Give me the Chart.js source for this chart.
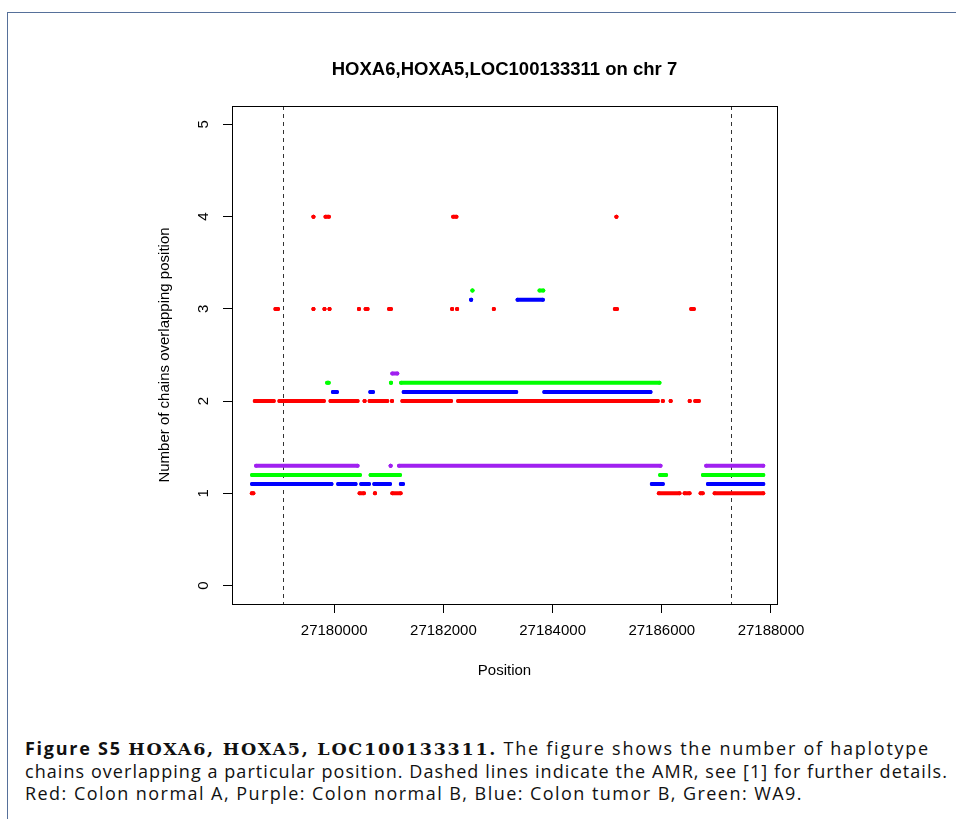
<!DOCTYPE html>
<html>
<head>
<meta charset="utf-8">
<script src="https://cdn.jsdelivr.net/npm/chart.js@4.4.1/dist/chart.umd.min.js"></script>
<style>
  html, body { margin: 0; padding: 0; background: #fff; }
  body { width: 956px; height: 819px; position: relative; overflow: hidden; }
  #frame {
    position: absolute; left: 7px; top: 12px; right: 0; bottom: 0;
    border-top: 1.5px solid #56709a; border-left: 1.5px solid #56709a;
  }
  #plot { position: absolute; left: 0; top: 0; }
  #caption {
    position: absolute; left: 25px; top: 737px;
    font-family: "Open Sans", "Liberation Sans", sans-serif;
    font-size: 18px; line-height: 22px; color: #111; white-space: nowrap;
  }
  #caption div { display: block; width: max-content; }
  #caption .lead { font-weight: bold; }
  #caption .genes { font-family: "DejaVu Serif", "Liberation Serif", serif; font-weight: bold; font-size: 17.5px; }
</style>
</head>
<body>
<div id="frame"></div>
<canvas id="plot" width="956" height="700"></canvas>
<div id="caption">
  <div data-w="905"><span class="lead">Figure S5</span> <span class="genes">HOXA6, HOXA5, LOC100133311.</span> The figure shows the number of haplotype</div>
  <div data-w="923">chains overlapping a particular position. Dashed lines indicate the AMR, see [1] for further details.</div>
  <div data-w="778">Red: Colon normal A, Purple: Colon normal B, Blue: Colon tumor B, Green: WA9.</div>
</div>
<script>
// Title and AMR boundaries
const plotTitle = "HOXA6,HOXA5,LOC100133311 on chr 7";
const amrBounds = [27179060, 27187260];
const xTicks = [27180000, 27182000, 27184000, 27186000, 27188000];

// Runs of chain counts: [start, end, count]
const redRuns = [
  [27178490, 27178520, 1], [27180464, 27180545, 1], [27180747, 27180747, 1],
  [27181064, 27181217, 1], [27185945, 27186325, 1], [27186417, 27186509, 1],
  [27186710, 27186750, 1], [27186967, 27187859, 1],
  [27178545, 27178893, 2], [27178996, 27179811, 2], [27179932, 27180428, 2],
  [27180556, 27180556, 2], [27180648, 27180973, 2], [27181059, 27181059, 2],
  [27181248, 27182141, 2], [27182270, 27185927, 2], [27186019, 27186019, 2],
  [27186162, 27186162, 2], [27186511, 27186511, 2], [27186612, 27186679, 2],
  [27178923, 27178972, 3], [27179620, 27179620, 3], [27179822, 27179822, 3],
  [27179914, 27179914, 3], [27180453, 27180453, 3], [27180574, 27180611, 3],
  [27181004, 27181040, 3], [27182160, 27182160, 3], [27182251, 27182251, 3],
  [27182923, 27182923, 3], [27185140, 27185180, 3], [27186538, 27186588, 3],
  [27179620, 27179620, 4], [27179840, 27179903, 4], [27182178, 27182239, 4],
  [27185169, 27185169, 4]
];
const purpleRuns = [
  [27178569, 27180428, 1], [27181033, 27181033, 1], [27181187, 27185977, 1],
  [27186813, 27187859, 1],
  [27181064, 27181156, 2]
];
const blueRuns = [
  [27178495, 27179950, 1], [27180073, 27180391, 1], [27180495, 27180637, 1],
  [27180734, 27181022, 1], [27181220, 27181260, 1], [27185817, 27186019, 1],
  [27186845, 27187859, 1],
  [27179976, 27180050, 2], [27180661, 27180710, 2], [27181272, 27183334, 2],
  [27183848, 27185793, 2],
  [27182508, 27182508, 3], [27183358, 27183822, 3]
];
const greenRuns = [
  [27178495, 27180472, 1], [27180666, 27181206, 1], [27185969, 27186079, 1],
  [27186753, 27187859, 1],
  [27179870, 27179900, 2], [27181040, 27181040, 2], [27181224, 27185958, 2],
  [27182532, 27182532, 3], [27183760, 27183830, 3]
];

// Each sample is nudged up a little so the runs don't sit on top of each other
const samples = [
  { label: "Colon normal A", runs: redRuns, offset: 0, color: "#ff0000" },
  { label: "Colon normal B", runs: purpleRuns, offset: 0.3, color: "#a020f0" },
  { label: "Colon tumor B", runs: blueRuns, offset: 0.1, color: "#0000ff" },
  { label: "WA9", runs: greenRuns, offset: 0.2, color: "#00ff00" }
];

function runsToPoints(runs, offset) {
  const pts = [];
  runs.forEach(([start, end, count]) => {
    pts.push({ x: start, y: count + offset });
    pts.push({ x: end, y: count + offset });
    pts.push({ x: end, y: null });
  });
  return pts;
}

const AREA = { left: 232, right: 777, top: 106, bottom: 604 };
const FONT = "'Liberation Sans', Arial, Helvetica, sans-serif";

// Box, dashed AMR lines and the main title
const rFrame = {
  id: "rFrame",
  beforeDatasetsDraw(chart) {
    const { ctx, chartArea: a, scales: { x } } = chart;
    ctx.save();
    ctx.strokeStyle = "#333";
    ctx.lineWidth = 1;
    ctx.setLineDash([4, 4]);
    amrBounds.forEach(v => {
      const px = Math.round(x.getPixelForValue(v)) + 0.5;
      ctx.beginPath();
      ctx.moveTo(px, a.top);
      ctx.lineTo(px, a.bottom);
      ctx.stroke();
    });
    ctx.restore();
  },
  afterDraw(chart) {
    const { ctx, chartArea: a } = chart;
    ctx.save();
    ctx.strokeStyle = "#000";
    ctx.lineWidth = 1;
    ctx.strokeRect(Math.round(a.left) + 0.5, Math.round(a.top) + 0.5,
      Math.round(a.right - a.left), Math.round(a.bottom - a.top));
    ctx.fillStyle = "#000";
    ctx.font = "bold 18.5px " + FONT;
    ctx.textAlign = "center";
    ctx.textBaseline = "middle";
    ctx.fillText(plotTitle, (a.left + a.right) / 2, 70);
    ctx.restore();
  }
};

const yAxisWidth = 76;
const xAxisHeight = 78;

new Chart(document.getElementById("plot"), {
  type: "line",
  data: {
    datasets: samples.map(s => ({
      label: s.label,
      data: runsToPoints(s.runs, s.offset),
      borderColor: s.color,
      backgroundColor: s.color,
      borderWidth: 4,
      borderCapStyle: "round",
      pointRadius: 2,
      pointBorderWidth: 0,
      pointHoverRadius: 2,
      spanGaps: false,
      tension: 0
    }))
  },
  options: {
    responsive: false,
    animation: false,
    events: [],
    layout: {
      padding: {
        left: AREA.left - yAxisWidth,
        right: 956 - AREA.right,
        top: AREA.top,
        bottom: 700 - AREA.bottom - xAxisHeight
      }
    },
    plugins: { legend: { display: false }, tooltip: { enabled: false } },
    scales: {
      x: {
        type: "linear",
        min: 27178128,
        max: 27188110,
        afterFit: s => { s.height = xAxisHeight; },
        afterBuildTicks: s => { s.ticks = xTicks.map(v => ({ value: v })); },
        ticks: {
          callback: v => String(v),
          color: "#000",
          font: { family: FONT, size: 15 },
          padding: 9,
          maxRotation: 0,
          autoSkip: false
        },
        grid: { display: true, drawOnChartArea: false, drawTicks: true, tickLength: 9, color: "#000", tickColor: "#000" },
        border: { display: true, color: "#000", width: 1 },
        title: { display: true, text: "Position", color: "#000", font: { family: FONT, size: 15 }, padding: { top: 0, bottom: 2 } }
      },
      y: {
        min: -0.2,
        max: 5.2,
        afterFit: s => { s.width = yAxisWidth; },
        afterBuildTicks: s => { s.ticks = [0, 1, 2, 3, 4, 5].map(v => ({ value: v })); },
        ticks: {
          color: "#000",
          font: { family: FONT, size: 15 },
          minRotation: 90,
          maxRotation: 90,
          crossAlign: "center",
          padding: 15
        },
        grid: { display: true, drawOnChartArea: false, drawTicks: true, tickLength: 9, color: "#000", tickColor: "#000" },
        border: { display: true, color: "#000", width: 1 },
        title: { display: true, text: "Number of chains overlapping position", color: "#000", font: { family: FONT, size: 15 }, padding: { top: 0, bottom: 0 } }
      }
    }
  },
  plugins: [rFrame]
});

// Stretch each caption line to its column width
function fitCaption() {
  document.querySelectorAll("#caption div").forEach(line => {
    line.style.letterSpacing = "0px";
    const natural = line.getBoundingClientRect().width;
    const chars = line.textContent.length;
    const target = Number(line.dataset.w);
    line.style.letterSpacing = ((target - natural) / chars).toFixed(3) + "px";
  });
}
fitCaption();
document.fonts.ready.then(fitCaption);
</script>
</body>
</html>
